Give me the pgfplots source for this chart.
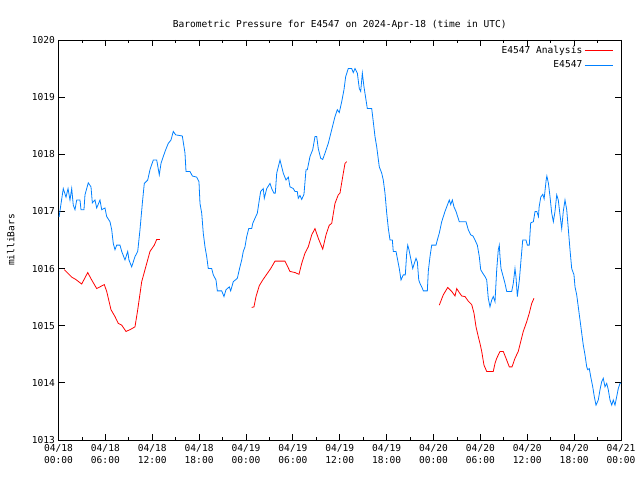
\documentclass[border=0pt]{standalone}
\usepackage{pgfplots}
\pgfplotsset{compat=1.18}
\usepackage{fontspec}
\setmainfont{DejaVu Sans Mono}
\definecolor{gpred}{RGB}{255,0,0}
\definecolor{gpblue}{RGB}{0,128,255}
\begin{document}
\begin{tikzpicture}[x=1bp,y=1bp]
\useasboundingbox (0,0) rectangle (640,480);
\begin{axis}[
  at={(58.5bp,40bp)}, anchor=south west,
  scale only axis, width=562.5bp, height=400bp,
  xmin=0, xmax=72, ymin=1013, ymax=1020,
  xtick={0,6,...,72},
  xticklabels={04/18\\00:00,04/18\\06:00,04/18\\12:00,04/18\\18:00,04/19\\00:00,04/19\\06:00,04/19\\12:00,04/19\\18:00,04/20\\00:00,04/20\\06:00,04/20\\12:00,04/20\\18:00,04/21\\00:00},
  minor x tick num=1,
  ytick={1013,1014,...,1020},
  yticklabel style={/pgf/number format/1000 sep={}, /pgf/number format/assume math mode=true, font=\fontsize{9.6}{10}\selectfont},
  xticklabel style={align=center, font=\fontsize{9.6}{12}\selectfont, yshift=-1bp},
  tick align=inside,
  major tick length=6bp, minor tick length=3bp,
  tick style={black, line width=0.8pt},
  axis line style={line width=0.8pt},
  title={Barometric Pressure for E4547 on 2024-Apr-18 (time in UTC)},
  title style={font=\fontsize{9.6}{10}\selectfont, yshift=1bp},
  ylabel={milliBars},
  ylabel style={font=\fontsize{9.6}{10}\selectfont, at={(axis description cs:-0.085,0.5)}, anchor=center, rotate=0},
  legend style={draw=none, fill=none, at={(0.988,0.992)}, anchor=north east, font=\fontsize{9.6}{10}\selectfont, row sep=1.5bp, inner sep=1bp},
  legend cell align=right,
  legend plot pos=right,
  legend image code/.code={\draw[#1] (0bp,0bp) -- (28bp,0bp);},
  every axis plot/.append style={line width=0.8pt},
]
% E4547 Analysis (red), three segments
\addplot[gpred] coordinates {
(0.74,1015.98)(1.18,1015.92)(1.69,1015.85)(2.20,1015.81)(2.97,1015.73)(3.74,1015.93)(4.25,1015.80)(4.89,1015.65)(5.86,1015.72)(6.17,1015.60)(6.72,1015.28)(7.23,1015.16)(7.65,1015.04)(8.09,1015.01)(8.64,1014.90)(9.15,1014.93)(9.79,1014.98)(10.14,1015.28)(10.65,1015.77)(11.07,1015.98)(11.71,1016.30)(12.26,1016.41)(12.57,1016.51)(12.99,1016.51)
};
\addlegendentry{E4547 Analysis}
\addplot[gpblue] coordinates {
(0,1016.91)(0.08,1016.91)(0.61,1017.40)(0.96,1017.25)(1.22,1017.40)(1.47,1017.20)(1.69,1017.40)(1.89,1017.11)(2.11,1017.03)(2.33,1017.20)(2.75,1017.20)(2.88,1017.03)(3.26,1017.03)(3.39,1017.29)(3.81,1017.50)(4.16,1017.43)(4.33,1017.15)(4.67,1017.20)(4.89,1017.06)(5.31,1017.20)(5.53,1017.03)(5.95,1017.06)(6.17,1016.91)(6.59,1016.82)(6.81,1016.68)(7.01,1016.44)(7.23,1016.33)(7.45,1016.41)(7.87,1016.41)(8.09,1016.30)(8.51,1016.15)(8.86,1016.30)(9.02,1016.15)(9.37,1016.03)(9.79,1016.21)(10.14,1016.30)(10.43,1016.68)(10.73,1017.14)(10.98,1017.49)(11.42,1017.55)(11.71,1017.73)(12.13,1017.90)(12.57,1017.90)(12.90,1017.64)(13.12,1017.84)(13.41,1017.96)(13.72,1018.08)(14.05,1018.19)(14.40,1018.25)(14.69,1018.40)(15.00,1018.34)(15.85,1018.32)(16.19,1018.02)(16.32,1017.70)(16.83,1017.70)(17.13,1017.62)(17.69,1017.60)(17.98,1017.52)(18.11,1017.14)(18.33,1016.97)(18.53,1016.62)(18.75,1016.38)(18.97,1016.21)(19.17,1016.00)(19.61,1016.00)(19.81,1015.89)(20.16,1015.80)(20.33,1015.61)(20.89,1015.61)(21.18,1015.51)(21.44,1015.63)(21.86,1015.68)(22.04,1015.61)(22.37,1015.77)(22.89,1015.83)(23.14,1015.98)(23.45,1016.15)(23.65,1016.30)(23.87,1016.38)(24.09,1016.56)(24.35,1016.70)(24.73,1016.70)(24.86,1016.79)(25.15,1016.88)(25.45,1016.97)(25.70,1017.20)(25.88,1017.35)(26.21,1017.40)(26.34,1017.23)(26.65,1017.40)(27.07,1017.49)(27.29,1017.40)(27.58,1017.32)(27.75,1017.32)(27.93,1017.67)(28.35,1017.90)(28.57,1017.78)(28.77,1017.67)(29.12,1017.55)(29.42,1017.60)(29.63,1017.43)(30.05,1017.40)(30.27,1017.35)(30.56,1017.35)(30.69,1017.23)(30.91,1017.28)(31.13,1017.21)(31.42,1017.30)(31.68,1017.73)(31.85,1017.73)(32.19,1017.96)(32.54,1018.08)(32.83,1018.31)(33.05,1018.31)(33.25,1018.10)(33.56,1017.93)(33.82,1017.91)(34.11,1018.02)(34.53,1018.19)(34.97,1018.43)(35.39,1018.66)(35.69,1018.78)(35.94,1018.73)(36.25,1018.92)(36.54,1019.13)(36.76,1019.36)(37.09,1019.50)(37.53,1019.50)(37.73,1019.43)(37.95,1019.50)(38.25,1019.42)(38.50,1019.15)(38.68,1019.10)(38.89,1019.42)(39.10,1019.18)(39.36,1018.95)(39.53,1018.80)(40.09,1018.80)(40.29,1018.57)(40.51,1018.31)(40.73,1018.13)(41.06,1017.78)(41.37,1017.67)(41.57,1017.55)(41.79,1017.32)(42.01,1016.97)(42.22,1016.70)(42.43,1016.50)(42.73,1016.50)(42.85,1016.30)(43.20,1016.30)(43.37,1016.18)(43.62,1016.00)(43.84,1015.80)(44.13,1015.89)(44.39,1015.89)(44.57,1016.27)(44.70,1016.41)(44.86,1016.33)(45.12,1016.15)(45.34,1016.00)(45.54,1016.09)(45.76,1016.18)(45.93,1016.12)(46.11,1015.80)(46.27,1015.74)(46.49,1015.68)(46.70,1015.61)(47.21,1015.61)(47.33,1015.95)(47.55,1016.21)(47.77,1016.41)(48.32,1016.41)(48.49,1016.50)(48.74,1016.62)(49.05,1016.82)(49.47,1017.00)(49.77,1017.11)(50.02,1017.20)(50.20,1017.12)(50.41,1017.20)(50.62,1017.08)(50.88,1017.00)(51.30,1016.82)(52.16,1016.82)(52.45,1016.68)(52.76,1016.59)(53.06,1016.57)(53.31,1016.50)(53.61,1016.41)(53.86,1016.21)(54.04,1015.98)(54.30,1015.92)(54.59,1015.86)(54.81,1015.80)(55.01,1015.48)(55.23,1015.33)(55.45,1015.45)(55.65,1015.51)(55.87,1015.42)(56.09,1015.98)(56.29,1016.33)(56.42,1016.41)(56.51,1016.21)(56.64,1016.00)(56.86,1015.89)(57.15,1015.74)(57.37,1015.60)(58.01,1015.60)(58.21,1015.74)(58.43,1016.00)(58.56,1015.85)(58.73,1015.51)(58.99,1015.80)(59.20,1016.15)(59.42,1016.50)(59.84,1016.50)(60.01,1016.41)(60.26,1016.41)(60.44,1016.80)(60.78,1016.82)(61.00,1017.00)(61.22,1017.00)(61.43,1016.91)(61.52,1017.08)(61.73,1017.25)(61.99,1017.30)(62.16,1017.22)(62.42,1017.55)(62.51,1017.62)(62.71,1017.49)(62.91,1017.26)(63.13,1016.97)(63.34,1016.82)(63.55,1017.00)(63.77,1017.29)(63.97,1017.20)(64.19,1016.94)(64.41,1016.70)(64.61,1017.00)(64.83,1017.20)(65.05,1017.03)(65.25,1016.70)(65.47,1016.33)(65.69,1016.00)(65.98,1015.89)(66.11,1015.68)(66.33,1015.54)(66.53,1015.33)(66.75,1015.10)(66.97,1014.87)(67.17,1014.66)(67.39,1014.49)(67.61,1014.28)(67.74,1014.23)(67.94,1014.25)(68.12,1014.11)(68.38,1013.93)(68.58,1013.76)(68.80,1013.61)(69.09,1013.70)(69.31,1013.88)(69.53,1014.02)(69.73,1014.08)(69.95,1013.93)(70.17,1013.99)(70.37,1013.88)(70.59,1013.70)(70.81,1013.61)(71.01,1013.70)(71.23,1013.61)(71.45,1013.76)(71.65,1013.90)(71.87,1013.99)(72.00,1014.00)
};
\addlegendentry{E4547}
\addplot[gpred, forget plot] coordinates {
(24.73,1015.32)(25.02,1015.33)(25.28,1015.51)(25.70,1015.70)(26.14,1015.80)(26.65,1015.90)(27.16,1016.00)(27.71,1016.13)(28.99,1016.13)(29.63,1015.95)(30.27,1015.93)(30.78,1015.90)(31.13,1016.09)(31.55,1016.27)(31.97,1016.38)(32.41,1016.59)(32.83,1016.70)(33.25,1016.53)(33.82,1016.34)(34.24,1016.59)(34.66,1016.76)(34.97,1016.79)(35.39,1017.14)(35.81,1017.29)(36.03,1017.32)(36.38,1017.61)(36.67,1017.84)(36.89,1017.87)
};
\addplot[gpred, forget plot] coordinates {
(48.74,1015.36)(49.25,1015.54)(49.82,1015.67)(50.33,1015.60)(50.75,1015.52)(50.97,1015.65)(51.30,1015.58)(51.61,1015.52)(52.03,1015.51)(52.45,1015.43)(52.89,1015.37)(53.18,1015.22)(53.44,1014.98)(53.73,1014.81)(53.95,1014.69)(54.17,1014.55)(54.46,1014.31)(54.81,1014.20)(55.65,1014.20)(55.87,1014.34)(56.09,1014.43)(56.51,1014.55)(56.93,1014.55)(57.28,1014.43)(57.70,1014.28)(58.05,1014.28)(58.43,1014.43)(58.85,1014.55)(59.16,1014.72)(59.49,1014.90)(59.93,1015.07)(60.26,1015.22)(60.57,1015.39)(60.86,1015.48)
};
\end{axis}
\end{tikzpicture}
\end{document}
